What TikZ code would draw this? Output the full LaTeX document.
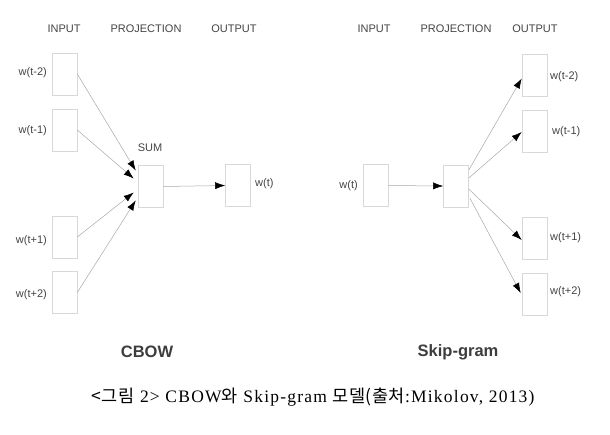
\documentclass[tikz,border=0pt]{standalone}
\usepackage{fontspec}
\setmainfont{Liberation Serif}
\setsansfont{Liberation Sans}
\newfontfamily\krfont{Noto Sans CJK KR}
\usetikzlibrary{arrows.meta,calc}
\definecolor{boxc}{HTML}{D8D8D8}
\definecolor{linec}{HTML}{A8A8A8}
\definecolor{txtc}{HTML}{444444}
\begin{document}
\begin{tikzpicture}[x=1pt,y=-1pt,
  vec/.style={draw=boxc,line width=0.6pt,minimum width=25pt,minimum height=42pt,inner sep=0pt,fill=white},
  lab/.style={font=\sffamily\fontsize{11}{12}\selectfont,text=txtc,inner sep=0pt},
  title/.style={font=\sffamily\bfseries\fontsize{16.5}{18}\selectfont,text=txtc!90!black,inner sep=0pt},
  conn/.style={draw=linec,line width=0.5pt,-{Latex[length=10pt,width=7pt,black]}}]
\useasboundingbox (0,0) rectangle (610,434);
% ---------- CBOW ----------
\node[lab] (hin1) at (64,29) {INPUT};
\node[lab] (hpr1) at (146,29) {PROJECTION};
\node[lab] (hou1) at (234,29) {OUTPUT};
\node[vec] (a1) at (64.5,74) {};
\node[vec] (a2) at (64.5,130) {};
\node[vec] (a3) at (64.5,237) {};
\node[vec] (a4) at (64.5,292.5) {};
\node[lab,anchor=east] (la1) at (47,73) {w(t-2)};
\node[lab,anchor=east] (la2) at (47,131) {w(t-1)};
\node[lab,anchor=east] (la3) at (47,241) {w(t+1)};
\node[lab,anchor=east] (la4) at (47,295) {w(t+2)};
\node[vec] (sum) at (150.5,186.5) {};
\node[lab] (lsum) at (150,148) {SUM};
\node[vec] (out1) at (238,185.5) {};
\node[lab,anchor=west] (lout1) at (255,184) {w(t)};
\draw[conn] (a1.east) -- ([xshift=-2pt,yshift=16pt]sum.west);
\draw[conn] (a2.east) -- ([xshift=-4pt,yshift=8pt]sum.west);
\draw[conn] (a3.east) -- ([xshift=-4pt,yshift=-6pt]sum.west);
\draw[conn] (a4.east) -- ([xshift=-2pt,yshift=-14pt]sum.west);
\draw[conn] (sum.east) -- (out1.west);
\node[title] (tcbow) at (147,352) {CBOW};
% ---------- Skip-gram ----------
\node[lab] (hin2) at (374,29) {INPUT};
\node[lab] (hpr2) at (456,29) {PROJECTION};
\node[lab] (hou2) at (535,29) {OUTPUT};
\node[vec] (in2) at (375.5,185.5) {};
\node[lab,anchor=east] (lin2) at (358,186) {w(t)};
\node[vec] (proj) at (456,186) {};
\node[vec] (b1) at (534.5,75.5) {};
\node[vec] (b2) at (534.5,131) {};
\node[vec] (b3) at (534.5,238) {};
\node[vec] (b4) at (534.5,294) {};
\node[lab,anchor=west] (lb1) at (550,77) {w(t-2)};
\node[lab,anchor=west] (lb2) at (552,132) {w(t-1)};
\node[lab,anchor=west] (lb3) at (550,238) {w(t+1)};
\node[lab,anchor=west] (lb4) at (550,292) {w(t+2)};
\draw[conn] (in2.east) -- (proj.west);
\draw[conn] ([yshift=16pt]proj.east) -- ([yshift=-3pt]b1.west);
\draw[conn] ([yshift=8pt]proj.east) -- ([yshift=-1pt]b2.west);
\draw[conn] ([yshift=-3pt]proj.east) -- ([yshift=-2pt]b3.west);
\draw[conn] ([xshift=1pt,yshift=-12pt]proj.east) -- ([xshift=-1pt,yshift=1pt]b4.west);
\node[title] (tskip) at (458,352) {Skip-gram};
% ---------- caption ----------
\node[inner sep=0pt,font=\fontsize{17.5}{19}\selectfont\addfontfeatures{LetterSpace=7}] (cap) at (313,397)
  {{\krfont\addfontfeatures{LetterSpace=3} <그림} 2> CBOW{\krfont 와} Skip-gram {\krfont\addfontfeatures{LetterSpace=3} 모델(출처}:Mikolov, 2013)};
\end{tikzpicture}
\end{document}
